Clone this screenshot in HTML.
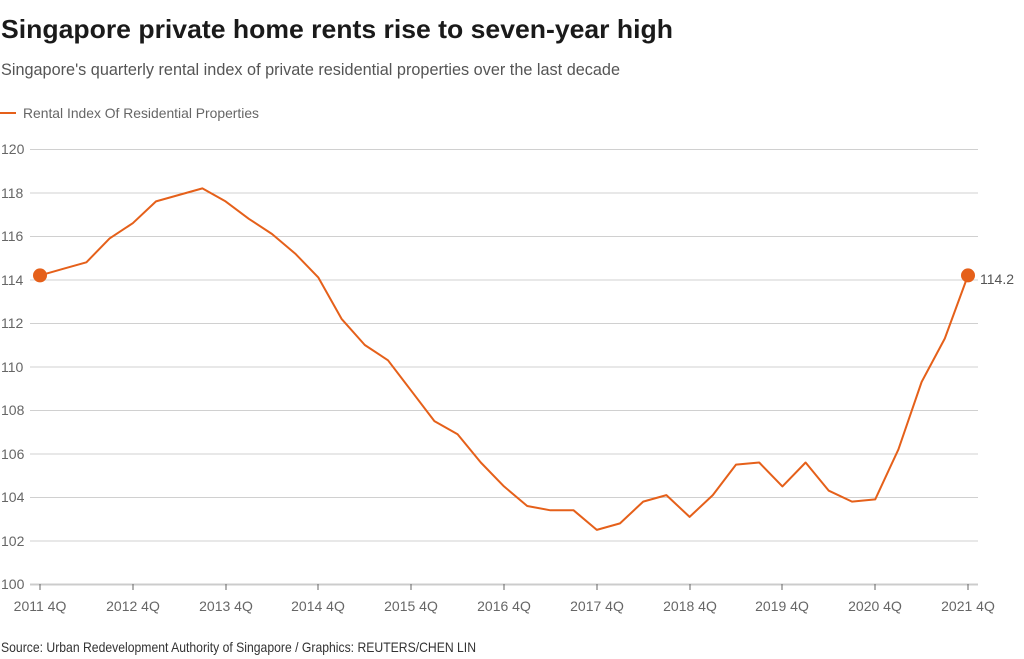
<!DOCTYPE html>
<html><head><meta charset="utf-8"><style>
html,body{margin:0;padding:0;background:#fff;}
svg{display:block;font-family:"Liberation Sans",sans-serif;}
</style></head><body>
<svg width="1024" height="659" viewBox="0 0 1024 659" xmlns="http://www.w3.org/2000/svg">
<text x="1" y="38" font-size="26" font-weight="bold" fill="#1a1a1a" textLength="672" lengthAdjust="spacingAndGlyphs">Singapore private home rents rise to seven-year high</text>
<text x="1" y="75" font-size="17" fill="#555" textLength="619" lengthAdjust="spacingAndGlyphs">Singapore's quarterly rental index of private residential properties over the last decade</text>
<line x1="0" y1="113" x2="16" y2="113" stroke="#e5601a" stroke-width="2"/>
<text x="23" y="118" font-size="14" fill="#666" textLength="236" lengthAdjust="spacingAndGlyphs">Rental Index Of Residential Properties</text>
<g stroke="#d0d0d0" stroke-width="1">
<line x1="30" x2="978" y1="149.5" y2="149.5"/><line x1="30" x2="978" y1="193" y2="193"/><line x1="30" x2="978" y1="236.5" y2="236.5"/><line x1="30" x2="978" y1="280" y2="280"/><line x1="30" x2="978" y1="323.5" y2="323.5"/><line x1="30" x2="978" y1="367" y2="367"/><line x1="30" x2="978" y1="410.5" y2="410.5"/><line x1="30" x2="978" y1="454" y2="454"/><line x1="30" x2="978" y1="497.5" y2="497.5"/><line x1="30" x2="978" y1="541" y2="541"/>
</g>
<line x1="30" x2="978" y1="584.5" y2="584.5" stroke="#ccc" stroke-width="2"/>
<g font-size="14" fill="#666">
<text x="1" y="154">120</text><text x="1" y="198">118</text><text x="1" y="241">116</text><text x="1" y="285">114</text><text x="1" y="328">112</text><text x="1" y="372">110</text><text x="1" y="415">108</text><text x="1" y="459">106</text><text x="1" y="502">104</text><text x="1" y="546">102</text><text x="1" y="589">100</text>
</g>
<g stroke="#666" stroke-width="1">
<line x1="40" x2="40" y1="584" y2="590"/><line x1="133" x2="133" y1="584" y2="590"/><line x1="226" x2="226" y1="584" y2="590"/><line x1="318" x2="318" y1="584" y2="590"/><line x1="411" x2="411" y1="584" y2="590"/><line x1="504" x2="504" y1="584" y2="590"/><line x1="597" x2="597" y1="584" y2="590"/><line x1="690" x2="690" y1="584" y2="590"/><line x1="782" x2="782" y1="584" y2="590"/><line x1="875" x2="875" y1="584" y2="590"/><line x1="968" x2="968" y1="584" y2="590"/>
</g>
<g font-size="14" fill="#666" text-anchor="middle">
<text x="40" y="611">2011 4Q</text><text x="133" y="611">2012 4Q</text><text x="226" y="611">2013 4Q</text><text x="318" y="611">2014 4Q</text><text x="411" y="611">2015 4Q</text><text x="504" y="611">2016 4Q</text><text x="597" y="611">2017 4Q</text><text x="690" y="611">2018 4Q</text><text x="782" y="611">2019 4Q</text><text x="875" y="611">2020 4Q</text><text x="968" y="611">2021 4Q</text>
</g>
<polyline fill="none" stroke="#e5601a" stroke-width="2" stroke-linejoin="round" points="40,275.4 63.2,268.8 86.4,262.3 109.6,238.4 132.8,223.2 156,201.4 179.2,194.9 202.4,188.4 225.6,201.4 248.8,218.8 272,234 295.2,253.6 318.4,277.6 341.6,318.9 364.8,345 388,360.3 411.2,390.7 434.4,421.1 457.6,434.2 480.8,462.5 504,486.4 527.2,506 550.4,510.3 573.6,510.3 596.8,529.9 620,523.4 643.2,501.6 666.4,495.1 689.6,516.9 712.8,495.1 736,464.6 759.2,462.5 782.4,486.4 805.6,462.5 828.8,490.7 852,501.6 875.2,499.4 898.4,449.4 921.6,382 944.8,338.5 968,275.4"/>
<circle cx="40" cy="275.4" r="7" fill="#e5601a"/>
<circle cx="968" cy="275.4" r="7" fill="#e5601a"/>
<text x="980" y="284" font-size="14" fill="#555">114.2</text>
<text x="1" y="652" font-size="14" fill="#333" textLength="475" lengthAdjust="spacingAndGlyphs">Source: Urban Redevelopment Authority of Singapore / Graphics: REUTERS/CHEN LIN</text>
</svg>
</body></html>
